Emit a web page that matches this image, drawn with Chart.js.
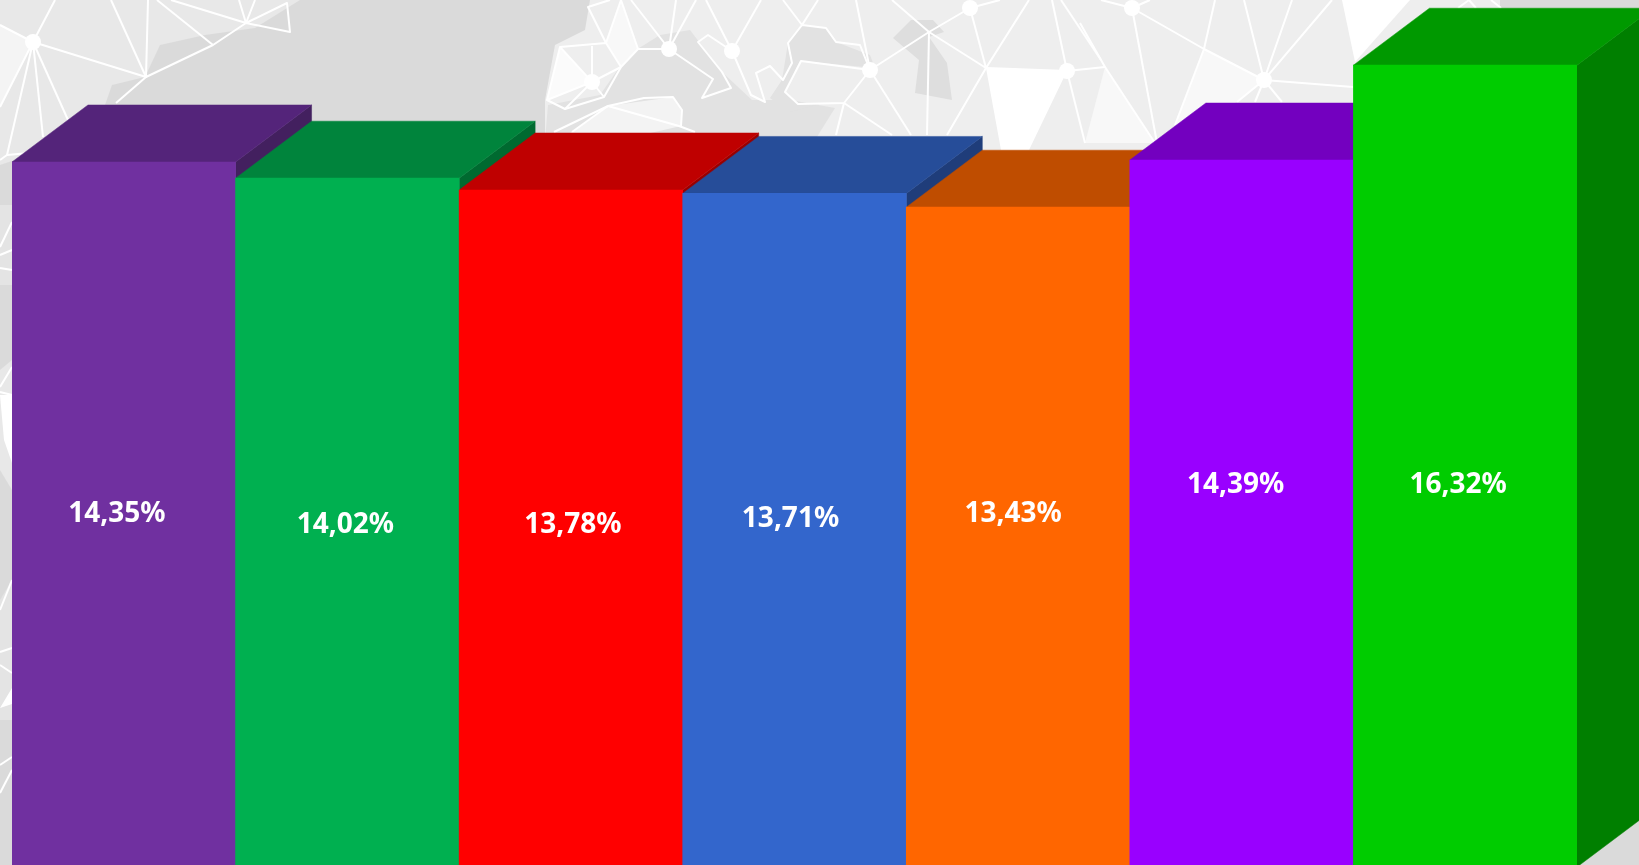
<!DOCTYPE html>
<html>
<head>
<meta charset="utf-8">
<title>Chart</title>
<script src="https://cdn.jsdelivr.net/npm/chart.js@4"></script>
<style>
  html, body { margin: 0; padding: 0; width: 1639px; height: 865px; overflow: hidden; background: #dadada; }
  #bg { position: absolute; left: 0; top: 0; }
  #chart { position: absolute; left: 0; top: 0; }
</style>
</head>
<body>
<!-- fundo: mapa cinza com a rede de linhas brancas -->
<svg id="bg" width="1639" height="865" xmlns="http://www.w3.org/2000/svg">
  <defs><filter id="soft"><feGaussianBlur stdDeviation="0.7"/></filter></defs>
  <rect width="1639" height="865" fill="#dadada"/>
  <g filter="url(#soft)">
    <!-- terra -->
    <polygon points="0,0 300,0 255,28 205,35 160,45 145,77 112,85 105,105 60,145 0,165" fill="#e8e8e8"/>
    <polygon points="590,0 1500,0 1500,8 1400,60 1350,200 545,200 545,100 555,45 585,30" fill="#eeeeee"/>
    <polygon points="548,105 600,95 628,55 660,35 690,30 722,72 752,100 790,100 835,108 815,140 545,140" fill="#e2e2e2"/>
    <polygon points="788,43 802,25 826,28 836,42 870,55 875,68 800,61 785,92 798,104 820,104 790,112 770,98 782,80" fill="#e2e2e2"/>
    <polygon points="893,38 911,20 933,20 944,32 929,37 947,63 952,100 915,93 919,60" fill="#dedede"/>
    <polygon points="0,25 33,42 0,107" fill="#f4f4f4"/>
    <polygon points="560,47 592,82 547,100" fill="#fbfbfb"/>
    <polygon points="606,43 621,0 638,49 621,67" fill="#f8f8f8"/>
    <polygon points="608,106 673,97 682,110 681,126 620,140 560,140" fill="#f3f3f3"/>
    <polygon points="986,68 1067,71 1029,150 1001,150" fill="#ffffff"/>
    <polygon points="1342,0 1410,0 1355,62" fill="#ffffff"/>
    <polygon points="1105,67 1155,143 1085,143" fill="#f8f8f8"/>
    <polygon points="1204,49 1264,80 1237,102 1175,125" fill="#f8f8f8"/>
    <!-- faixa esquerda -->
    <polygon points="0,205 12,205 12,285 0,285" fill="#e4e4e4"/>
    <polygon points="0,370 12,360 12,490 0,470" fill="#e8e8e8"/>
    <polygon points="0,395 12,395 12,463 4,440" fill="#ffffff"/>
    <polygon points="0,600 12,580 12,720 0,720" fill="#e4e4e4"/>
    <polygon points="0,708 12,688 12,704" fill="#ffffff"/>
    <!-- linhas -->
    <g fill="none" stroke="#ffffff" stroke-width="2" stroke-linejoin="round">
      <polyline points="0,25 33,42 55,0"/>
      <polyline points="33,42 146,77 111,0"/>
      <polyline points="0,107 33,42 7,155"/>
      <polyline points="33,42 43,137"/>
      <polyline points="33,42 68,120"/>
      <polyline points="148,0 146,77 213,45 246,23 287,3 290,32 246,23"/>
      <polyline points="146,77 116,103"/>
      <polyline points="157,0 213,45"/>
      <polyline points="171,0 246,23 239,0"/>
      <polyline points="246,23 255,0"/>
      <polyline points="0,160 7,155 40,152"/>
      <polyline points="610,0 588,7 606,43 621,67 604,97 565,109 547,100 560,47 606,43"/>
      <polyline points="606,43 621,0 638,49 621,67"/>
      <polyline points="638,49 669,49 713,79 702,98 731,88 722,72 698,42 708,35 732,51"/>
      <polyline points="631,0 669,49 676,0"/>
      <polyline points="669,49 696,0"/>
      <polyline points="560,47 592,82 604,97"/>
      <polyline points="592,46 592,82 621,67"/>
      <polyline points="547,100 592,82 565,109"/>
      <polyline points="706,0 732,51 761,0"/>
      <polyline points="732,51 736,60 751,95 765,102 756,73 770,66 783,80 792,63 788,43 802,25 826,28 836,42 860,45 870,70"/>
      <polyline points="783,0 802,25 818,0"/>
      <polyline points="870,70 801,61 785,92 798,104 844,103 870,70"/>
      <polyline points="844,103 836,135"/>
      <polyline points="844,103 892,135"/>
      <polyline points="870,70 911,135"/>
      <polyline points="856,0 870,70 929,32 970,8 1000,0"/>
      <polyline points="929,32 927,135"/>
      <polyline points="892,0 929,32 986,68 970,8"/>
      <polyline points="986,68 1029,0"/>
      <polyline points="947,135 986,68 1067,71 1105,67 1080,23"/>
      <polyline points="1052,0 1067,71 1085,143"/>
      <polyline points="1061,0 1101,60"/>
      <polyline points="554,132 608,106 644,98 673,97 682,110 681,126"/>
      <polyline points="608,106 679,126 695,132"/>
      <polyline points="572,132 608,106"/>
      <polyline points="1132,8 1204,49 1264,80"/>
      <polyline points="1101,0 1132,8 1150,0"/>
      <polyline points="1132,8 1157,143"/>
      <polyline points="1215,0 1204,49 1175,125"/>
      <polyline points="1105,67 1155,143"/>
      <polyline points="1244,0 1264,80 1292,0"/>
      <polyline points="1264,80 1332,0"/>
      <polyline points="1264,80 1353,87"/>
      <polyline points="1264,80 1237,102"/>
      <polyline points="1264,80 1255,102"/>
      <polyline points="1264,80 1282,102"/>
      <polyline points="1458,8 1469,0 1476,8"/>
      <polyline points="1491,0 1501,8"/>
      <polyline points="0,247 12,222"/>
      <polyline points="0,255 12,250"/>
      <polyline points="0,268 12,270"/>
      <polyline points="0,387 12,367"/>
      <polyline points="0,392 12,395"/>
      <polyline points="0,610 12,580"/>
      <polyline points="0,652 12,648"/>
      <polyline points="0,665 12,673"/>
      <polyline points="0,765 12,757"/>
      <polyline points="0,793 12,770"/>
    </g>
    <g fill="#ffffff">
      <circle cx="33" cy="42" r="8"/>
      <circle cx="592" cy="82" r="8"/>
      <circle cx="669" cy="49" r="8"/>
      <circle cx="732" cy="51" r="8"/>
      <circle cx="870" cy="70" r="8"/>
      <circle cx="970" cy="8" r="8"/>
      <circle cx="1067" cy="71" r="8"/>
      <circle cx="1132" cy="8" r="8"/>
      <circle cx="1264" cy="80" r="8"/>
    </g>
  </g>
</svg>
<canvas id="chart" width="1639" height="867"></canvas>
<script>
const categories = ["A", "B", "C", "D", "E", "F", "G"];
const values = [14.35, 14.02, 13.78, 13.71, 13.43, 14.39, 16.32];

const frontColors = ["#7030a0", "#00b050", "#ff0000", "#3366cc", "#ff6600", "#9900ff", "#00cc00"];
const topColors = ["#54247a", "#00843c", "#bf0000", "#264d99", "#bf4d00", "#7300bf", "#009900"];
const sideColors = ["#43205f", "#006a30", "#990000", "#1f3d7a", "#993d00", "#5c0099", "#007f00"];

// deslocamento dos rotulos em relacao ao centro da barra
const labelDx = [-7, -2, 2, -4, -5, -6, -7];
const labelDy = [0, 2, -3, -11, -23, -28, 19];

const depthX = 76;
const depthY = 57;

function face(ctx, pts, color) {
    ctx.fillStyle = color;
    ctx.strokeStyle = color;
    ctx.lineWidth = 0.5;
    ctx.beginPath();
    pts.forEach((p, i) => i ? ctx.lineTo(p[0], p[1]) : ctx.moveTo(p[0], p[1]));
    ctx.closePath();
    ctx.fill();
    ctx.stroke();
}

// Faces de cima e lateral, atras das barras
const depthPlugin = {
    id: "depth",
    beforeDatasetsDraw(chart) {
        const ctx = chart.ctx;
        ctx.save();
        chart.getDatasetMeta(0).data.forEach((bar, i) => {
            const l = bar.x - bar.width / 2;
            const r = bar.x + bar.width / 2;
            face(ctx, [[r, bar.y], [r + depthX, bar.y - depthY], [r + depthX, bar.base - depthY], [r, bar.base]], sideColors[i]);
            face(ctx, [[l, bar.y], [l + depthX, bar.y - depthY], [r + depthX, bar.y - depthY], [r, bar.y]], topColors[i]);
        });
        ctx.restore();
    }
};

// Rotulos de porcentagem
const labelPlugin = {
    id: "percentLabels",
    afterDatasetsDraw(chart) {
        const ctx = chart.ctx;
        ctx.save();
        ctx.fillStyle = "#ffffff";
        ctx.font = "bold 28px 'Noto Sans'";
        ctx.textAlign = "center";
        ctx.textBaseline = "middle";
        chart.getDatasetMeta(0).data.forEach((bar, i) => {
            const text = values[i].toFixed(2).replace(".", ",") + "%";
            ctx.fillText(text, bar.x + labelDx[i], (bar.y + bar.base) / 2 + labelDy[i]);
        });
        ctx.restore();
    }
};

new Chart(document.getElementById("chart"), {
    type: "bar",
    data: {
        labels: categories,
        datasets: [{
            data: values,
            backgroundColor: frontColors,
            borderWidth: 0,
            barPercentage: 1,
            categoryPercentage: 1
        }]
    },
    options: {
        responsive: false,
        animation: false,
        devicePixelRatio: 1,
        layout: { padding: { left: 12, right: 62, top: 0, bottom: 0 } },
        plugins: { legend: { display: false }, tooltip: { enabled: false } },
        scales: {
            x: { display: false },
            y: { display: false, min: 0, max: 17.647 }
        }
    },
    plugins: [depthPlugin, labelPlugin]
});
</script>
</body>
</html>
